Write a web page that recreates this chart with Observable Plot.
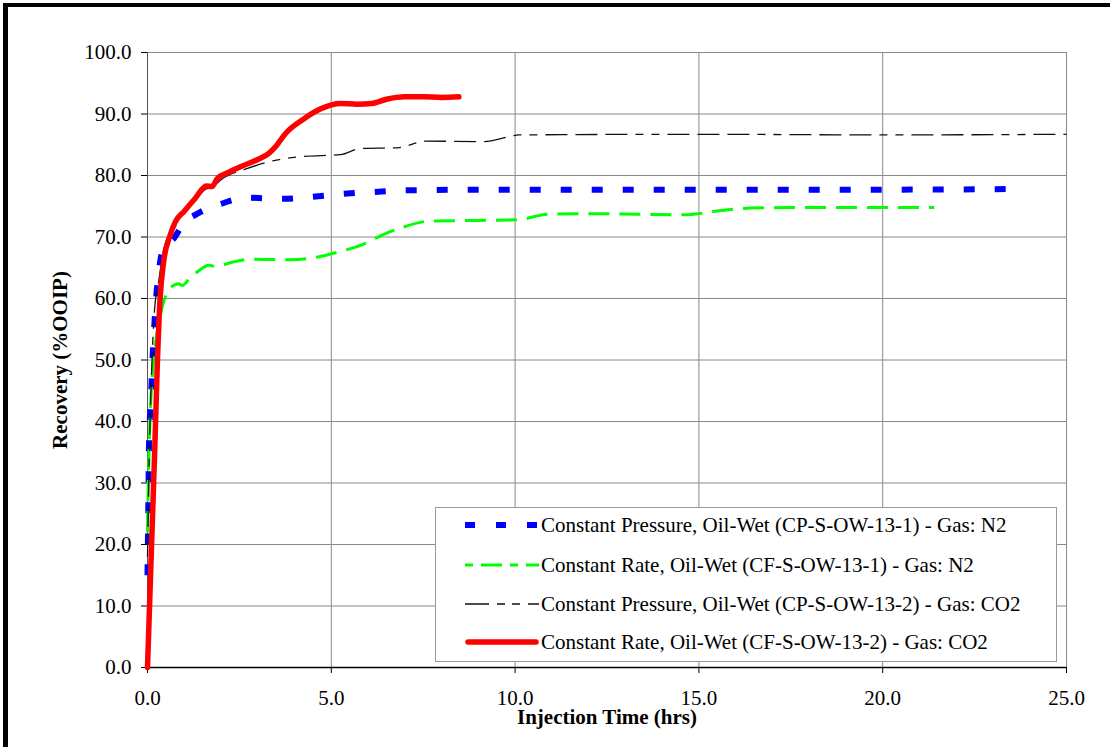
<!DOCTYPE html>
<html>
<head>
<meta charset="utf-8">
<script src="https://cdn.jsdelivr.net/npm/d3@7"></script>
<script src="https://cdn.jsdelivr.net/npm/@observablehq/plot@0.6"></script>
<style>
  body { margin: 0; background: #fff; }
  #wrap { position: relative; width: 1110px; height: 747px; overflow: hidden; font-family: "Liberation Serif", "Times New Roman", Tinos, "DejaVu Serif", serif; background: #fff; }
  #frame { position: absolute; left: 3px; top: 3px; width: 1200px; height: 900px; border-top: 4px solid #000; border-left: 5px solid #000; }
  #chart { position: absolute; left: 0; top: 0; }
  #chart svg text { font-family: "Liberation Serif", "Times New Roman", Tinos, "DejaVu Serif", serif; }
  #legend { position: absolute; left: 435px; top: 507px; width: 620px; height: 153px; border: 1px solid #999; background: #fff; }
  .row { position: absolute; left: 0; height: 24px; width: 100%; }
  .row svg { position: absolute; left: 29px; top: 0; }
  .row span { position: absolute; left: 105px; top: 0; line-height: 24px; font-size: 21px; white-space: nowrap; color: #000; font-family: "Liberation Serif", "Times New Roman", Tinos, "DejaVu Serif", serif; }
</style>
</head>
<body>
<div id="wrap">
  <div id="frame"></div>
  <div id="chart"></div>
  <div id="legend"></div>
</div>
<script>
// ---- data ----
const xTicks = [0, 5, 10, 15, 20, 25];
const yTicks = [0, 10, 20, 30, 40, 50, 60, 70, 80, 90, 100];
const xTitle = "Injection Time (hrs)";
const yTitle = "Recovery (%OOIP)";

const seriesNames = [
  "Constant Pressure, Oil-Wet (CP-S-OW-13-1) - Gas: N2",
  "Constant Rate, Oil-Wet (CF-S-OW-13-1) - Gas: N2",
  "Constant Pressure, Oil-Wet (CP-S-OW-13-2) - Gas: CO2",
  "Constant Rate, Oil-Wet (CF-S-OW-13-2) - Gas: CO2"
];

// [time (hrs), recovery (%OOIP)]
const cpN2 = [[0,15],[0.02,25],[0.04,36],[0.1,44.5],[0.13,49.4],[0.17,54],[0.22,59],[0.28,63],[0.35,66.2],[0.44,68.3],[0.72,69.8],[1.0,72.4],[1.3,73.6],[1.62,74.6],[2.0,75.4],[2.7,76.4],[3.2,76.3],[3.7,76.2],[4.4,76.5],[5.3,77],[6.1,77.3],[7,77.6],[10,77.7],[15,77.7],[20,77.7],[23.7,77.8]];
const cfN2 = [[0,22],[0.03,32],[0.08,42],[0.15,49],[0.25,54],[0.4,58.6],[0.63,61.8],[0.85,62.4],[0.94,62.1],[1.15,63.3],[1.35,64.3],[1.67,65.4],[1.85,65.2],[2.3,65.9],[2.8,66.4],[3.9,66.3],[4.6,66.7],[5.16,67.5],[5.9,68.9],[6.34,70.2],[6.9,71.5],[7.7,72.6],[9,72.7],[10.06,72.8],[10.9,73.7],[12,73.8],[14.7,73.6],[15,73.8],[15.6,74.3],[16.4,74.7],[18,74.8],[21.4,74.8]];
const cpCO2 = [[0,18],[0.05,35],[0.1,46],[0.19,58],[0.31,63],[0.44,68],[0.6,70.5],[0.8,72.5],[1.0,74],[1.3,76],[1.6,77.8],[1.75,78],[2.0,79.3],[2.7,81.1],[3.5,82.5],[4.25,83.1],[5.25,83.4],[5.8,84.4],[6.8,84.5],[7.6,85.6],[9.1,85.5],[9.9,86.4],[10.1,86.6],[15,86.7],[20,86.6],[25,86.7]];
const cfCO2 = [[0,0],[0.1,18],[0.2,36],[0.26,48],[0.34,59.7],[0.44,66],[0.6,70],[0.76,72.5],[1.0,74.2],[1.3,76.3],[1.6,78.3],[1.75,78.2],[1.9,79.5],[2.2,80.5],[2.6,81.6],[3.0,82.6],[3.3,83.6],[3.5,84.8],[3.75,86.8],[4.25,89.2],[4.7,90.8],[5.25,91.7],[5.7,91.6],[6.1,91.7],[6.5,92.4],[7.0,92.8],[7.5,92.8],[8.0,92.7],[8.47,92.8]];

// ---- styles ----
const styles = [
  {stroke: "#0000ff", strokeWidth: 6, strokeDasharray: "11,20", strokeLinecap: "butt"},
  {stroke: "#00ff00", strokeWidth: 3, strokeDasharray: "21,10", strokeLinecap: "butt"},
  {stroke: "#111111", strokeWidth: 1.3, strokeDasharray: "22,8,22,8,22,8,8,8,8,8", strokeLinecap: "butt"},
  {stroke: "#ff0000", strokeWidth: 5.5, strokeDasharray: null, strokeLinecap: "round"}
];
const seriesData = [cpN2, cfN2, cpCO2, cfCO2];

const fmt = d => d.toFixed(1);
const serif = "'Liberation Serif', 'Times New Roman', Tinos, 'DejaVu Serif', serif";

const chart = Plot.plot({
  width: 1110,
  height: 747,
  marginLeft: 147,
  marginRight: 44,
  marginTop: 52,
  marginBottom: 80,
  style: {fontFamily: serif, background: "transparent", color: "#000", overflow: "visible"},
  x: {domain: [0, 25]},
  y: {domain: [0, 100]},
  marks: [
    Plot.gridX(xTicks, {stroke: "#888", strokeOpacity: 1}),
    Plot.gridY(yTicks, {stroke: "#888", strokeOpacity: 1}),
    Plot.ruleX([25], {stroke: "#888"}),
    Plot.ruleX([0], {stroke: "#555"}),
    Plot.ruleY([0], {stroke: "#000", strokeWidth: 1.5}),
    Plot.axisY(yTicks, {tickSize: 6, tickPadding: 10, fontSize: 21, tickFormat: fmt, label: null, stroke: "#000"}),
    Plot.axisX(xTicks, {tickSize: 6, tickPadding: 17, fontSize: 21, tickFormat: fmt, label: null, stroke: "#000"}),
    ...seriesData.map((data, i) => Plot.line(data, {
      x: d => d[0], y: d => d[1], curve: "monotone-x",
      stroke: styles[i].stroke, strokeWidth: styles[i].strokeWidth,
      strokeDasharray: styles[i].strokeDasharray || undefined,
      strokeLinecap: styles[i].strokeLinecap, strokeLinejoin: "round"
    })),
    Plot.text([xTitle], {text: d => d, frameAnchor: "bottom", textAnchor: "middle", lineAnchor: "middle", dy: 50, fontSize: 21, fontWeight: "bold", fill: "#000"}),
    Plot.text([yTitle], {text: d => d, frameAnchor: "left", textAnchor: "middle", lineAnchor: "middle", rotate: -90, dx: -87, fontSize: 21, fontWeight: "bold", fill: "#000"})
  ]
});
document.getElementById("chart").appendChild(chart);

// ---- legend ----
const legend = document.getElementById("legend");
const rowTops = [5, 45, 84, 122];
seriesNames.forEach((name, i) => {
  const row = document.createElement("div");
  row.className = "row";
  row.style.top = rowTops[i] + "px";
  const s = styles[i];
  const ns = "http://www.w3.org/2000/svg";
  const svg = document.createElementNS(ns, "svg");
  svg.setAttribute("width", 76);
  svg.setAttribute("height", 24);
  const ln = document.createElementNS(ns, "line");
  const pad = s.strokeLinecap === "round" ? 3 : 0;
  ln.setAttribute("x1", pad); ln.setAttribute("x2", 74 - pad);
  ln.setAttribute("y1", 12); ln.setAttribute("y2", 12);
  ln.setAttribute("stroke", s.stroke);
  ln.setAttribute("stroke-width", s.strokeWidth === 1.3 ? 1.5 : s.strokeWidth);
  ln.setAttribute("stroke-linecap", s.strokeLinecap);
  if (i === 0) ln.setAttribute("stroke-dasharray", "10,21");
  if (i === 1) ln.setAttribute("stroke-dasharray", "8,8,21,8");
  if (i === 2) ln.setAttribute("stroke-dasharray", "24,8,8,7,8,8");
  svg.appendChild(ln);
  row.appendChild(svg);
  const span = document.createElement("span");
  span.textContent = name;
  row.appendChild(span);
  legend.appendChild(row);
});
</script>
</body>
</html>
